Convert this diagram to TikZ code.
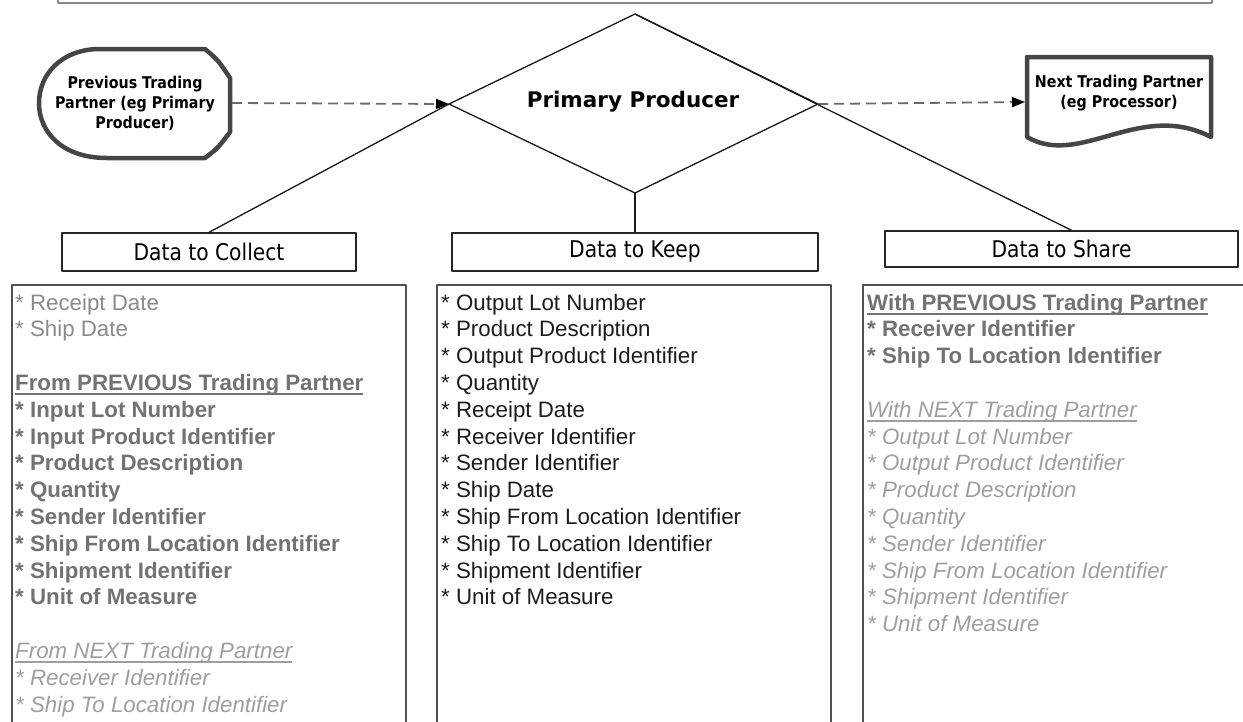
\documentclass[tikz,border=0pt]{standalone}
\usepackage{fontspec}
\setmainfont{Liberation Sans}
\newfontfamily\tah[FakeStretch=0.88]{DejaVu Sans}
\newfontfamily\dvs{DejaVu Sans}
\usetikzlibrary{arrows.meta}
\definecolor{shapeG}{HTML}{454545}
\definecolor{boxG}{HTML}{505050}
\definecolor{stripG}{HTML}{8C8C8C}
\definecolor{dashG}{HTML}{6A6A6A}
\definecolor{regG}{HTML}{8A8A8A}
\definecolor{boldG}{HTML}{727272}
\definecolor{itG}{HTML}{9E9E9E}
\definecolor{keepK}{HTML}{1C1C1C}
\newcommand\myul[1]{\setbox0\hbox{#1}\rlap{\rule[-4.5pt]{\wd0}{1.5pt}}\box0}
\begin{document}
\begin{tikzpicture}[x=1pt,y=-1pt,line join=round,
  txt/.style={anchor=base west,inner sep=0pt,font=\fontsize{22.3}{26}\selectfont},
  regtxt/.style={txt,text=regG},
  boldtxt/.style={txt,text=boldG,font=\fontsize{22.3}{26}\selectfont\bfseries},
  ittxt/.style={txt,text=itG,font=\fontsize{22.3}{26}\selectfont\itshape},
  keeptxt/.style={txt,text=keepK},
  header/.style={draw=black!85,line width=1.4pt,inner sep=0pt,font=\tah\fontsize{23}{26}\selectfont},
  partner/.style={draw=shapeG,line width=4.5pt},
  ptxt/.style={align=center,inner sep=0pt,font=\tah\bfseries\fontsize{16.2}{20}\selectfont},
  conn/.style={draw=black!90,line width=1.3pt},
  dasharrow/.style={draw=dashG,line width=1.8pt,dash pattern=on 10pt off 6pt,-{Triangle[length=13pt,width=10pt,color=black]}},
  colbox/.style={draw=boxG,line width=2pt}
]
\useasboundingbox (0,0) rectangle (1243,721);
% top strip
\draw[draw=stripG,line width=2pt] (58,0) -- (58,3) -- (1212,3) -- (1212,0);
% diamond
\coordinate (dT) at (635,14);
\coordinate (dL) at (449,104);
\coordinate (dR) at (818,104);
\coordinate (dB) at (635,193);
\draw[conn] (dT) -- (dR) -- (dB) -- (dL) -- cycle;
\node[inner sep=0pt,font=\dvs\bfseries\fontsize{21.5}{24}\selectfont] (pp) at (633,102) {Primary Producer};
% previous partner shape
\draw[partner] (100,49) -- (205,49) .. controls (218,60) .. (230,78) -- (230,132) .. controls (218,148) .. (205,158) -- (107,158) .. controls (62,158) and (39,132) .. (39,103) .. controls (39,74) and (62,49) .. (100,49) -- cycle;
\node[ptxt] (prev) at (135,103) {Previous Trading\\Partner (eg Primary\\Producer)};
\coordinate (prevR) at (232,103);
% next partner shape
\draw[partner] (1027,57) -- (1211,57) -- (1211,137) .. controls (1140,100) and (1080,168) .. (1027,137) -- cycle;
\node[ptxt] (next) at (1119,93) {Next Trading Partner\\(eg Processor)};
\coordinate (nextL) at (1025,102);
% dashed arrows
\draw[dasharrow] (prevR) -- (dL);
\draw[dasharrow] (dR) -- (nextL);
% header boxes
\node[header,minimum width=294pt,minimum height=38pt] (collect) at (209,252) {Data to Collect};
\node[header,minimum width=366pt,minimum height=38pt] (keep) at (635,252) {Data to Keep};
\node[header,minimum width=353pt,minimum height=36pt] (share) at (1061.5,249) {Data to Share};
\draw[conn] (dL) -- (collect.north);
\draw[conn] (dB) -- (keep.north);
\draw[conn] (dT) -- ([xshift=10pt]share.north);
% column boxes
\draw[colbox] (12,722) -- (12,285) -- (406,285) -- (406,722);
\draw[colbox] (437,722) -- (437,285) -- (831,285) -- (831,722);
\draw[colbox] (863,722) -- (863,285) -- (1244,285);
% left column
\foreach \r/\t in {0/{* Receipt Date},1/{* Ship Date}}
  \node[regtxt] (c\r) at (15,{310+26.8*\r}) {\t};
\node[boldtxt] (c3) at (15,{310+26.8*3}) {\myul{From PREVIOUS Trading Partner}};
\foreach \r/\t in {4/{* Input Lot Number},5/{* Input Product Identifier},6/{* Product Description},7/{* Quantity},8/{* Sender Identifier},9/{* Ship From Location Identifier},10/{* Shipment Identifier},11/{* Unit of Measure}}
  \node[boldtxt] (c\r) at (15,{310+26.8*\r}) {\t};
\node[ittxt] (c13) at (15,{310+26.8*13}) {\myul{From NEXT Trading Partner}};
\foreach \r/\t in {14/{* Receiver Identifier},15/{* Ship To Location Identifier}}
  \node[ittxt] (c\r) at (15,{310+26.8*\r}) {\t};
% middle column
\foreach \r/\t in {0/{* Output Lot Number},1/{* Product Description},2/{* Output Product Identifier},3/{* Quantity},4/{* Receipt Date},5/{* Receiver Identifier},6/{* Sender Identifier},7/{* Ship Date},8/{* Ship From Location Identifier},9/{* Ship To Location Identifier},10/{* Shipment Identifier},11/{* Unit of Measure}}
  \node[keeptxt] (k\r) at (441,{310+26.8*\r}) {\t};
% right column
\node[boldtxt] (s0) at (867,310) {\myul{With PREVIOUS Trading Partner}};
\foreach \r/\t in {1/{* Receiver Identifier},2/{* Ship To Location Identifier}}
  \node[boldtxt] (s\r) at (867,{310+26.8*\r}) {\t};
\node[ittxt] (s4) at (867,{310+26.8*4}) {\myul{With NEXT Trading Partner}};
\foreach \r/\t in {5/{* Output Lot Number},6/{* Output Product Identifier},7/{* Product Description},8/{* Quantity},9/{* Sender Identifier},10/{* Ship From Location Identifier},11/{* Shipment Identifier},12/{* Unit of Measure}}
  \node[ittxt] (s\r) at (867,{310+26.8*\r}) {\t};
\end{tikzpicture}
\end{document}
